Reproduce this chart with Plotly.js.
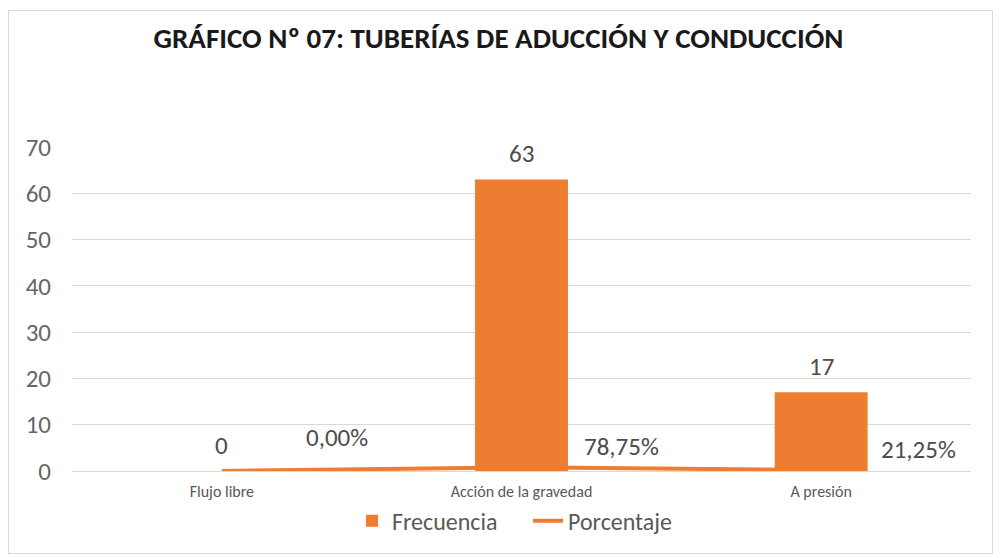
<!DOCTYPE html>
<html>
<head>
<meta charset="utf-8">
<script src="https://cdn.plot.ly/plotly-3.0.1.min.js"></script>
<style>
  html, body { margin: 0; padding: 0; background: #fff; }
  #wrap { position: relative; width: 1001px; height: 558px; }
  #chart { width: 1001px; height: 558px; }
  #frame { position: absolute; left: 8px; top: 10px; width: 983px; height: 542px;
           border: 1px solid #d9d9d9; pointer-events: none; }
</style>
</head>
<body>
<div id="wrap">
  <div id="chart"></div>
  <div id="frame"></div>
</div>
<script>
const categories = ["Flujo libre", "Acción de la gravedad", "A presión"];
const frecuencia = [0, 63, 17];
const porcentaje = [0.0, 0.7875, 0.2125];
const porcentajeLabels = ["0,00%", "78,75%", "21,25%"];
const yTicks = [0, 10, 20, 30, 40, 50, 60, 70];

// label offsets (style only)
const pctXShift = [82, 60, 58];
const pctYShift = [34, 21, 21];

const FONT = "Carlito, 'Liberation Sans', sans-serif";
const ORANGE = "#ED7D31";

const traces = [
  {
    type: "bar",
    name: "Frecuencia",
    x: categories,
    y: frecuencia,
    marker: { color: ORANGE },
    width: 0.31,
    hoverinfo: "x+y"
  },
  {
    type: "scatter",
    mode: "lines",
    name: "Porcentaje",
    x: categories,
    y: porcentaje,
    line: { color: ORANGE, width: 4 },
    hoverinfo: "x+y"
  }
];

const annotations = [];
categories.forEach((c, i) => {
  annotations.push({
    x: c, y: frecuencia[i], xref: "x", yref: "y",
    text: String(frecuencia[i]), showarrow: false,
    xanchor: "center", yanchor: "middle", yshift: 26,
    font: { family: FONT, size: 25, color: "#4d4d4d" }
  });
  annotations.push({
    x: c, y: porcentaje[i], xref: "x", yref: "y",
    text: porcentajeLabels[i], showarrow: false,
    xanchor: "left", yanchor: "middle",
    xshift: pctXShift[i], yshift: pctYShift[i],
    font: { family: FONT, size: 25, color: "#4d4d4d" }
  });
});

const layout = {
  width: 1001, height: 558,
  margin: { l: 72, r: 30, t: 147, b: 87 },
  paper_bgcolor: "#ffffff",
  plot_bgcolor: "#ffffff",
  title: {
    text: "GRÁFICO Nº 07: TUBERÍAS DE ADUCCIÓN Y CONDUCCIÓN",
    font: { family: FONT, size: 29, color: "#1a1a1a", weight: "bold" },
    x: 0.498, xref: "container", xanchor: "center",
    y: 0.932, yref: "container", yanchor: "middle"
  },
  xaxis: {
    type: "category",
    categoryarray: categories,
    showgrid: false,
    showline: false,
    ticks: "",
    tickfont: { family: FONT, size: 16, color: "#595959" },
    ticklabelstandoff: 9
  },
  yaxis: {
    range: [0, 70],
    tickvals: yTicks,
    showgrid: true,
    gridcolor: "#d9d9d9",
    gridwidth: 1,
    zeroline: true,
    zerolinecolor: "#d9d9d9",
    zerolinewidth: 1,
    showline: false,
    ticks: "",
    tickfont: { family: FONT, size: 25, color: "#666666" },
    ticklabelstandoff: 20
  },
  bargap: 0.69,
  showlegend: true,
  legend: {
    orientation: "h",
    x: 0.3115, xanchor: "left", xref: "paper",
    y: -0.155, yanchor: "middle",
    entrywidth: 131, entrywidthmode: "pixels",
    font: { family: FONT, size: 24, color: "#595959" },
    bgcolor: "rgba(0,0,0,0)"
  },
  annotations: annotations
};

Plotly.newPlot("chart", traces, layout, { displayModeBar: false, staticPlot: true });
</script>
</body>
</html>
